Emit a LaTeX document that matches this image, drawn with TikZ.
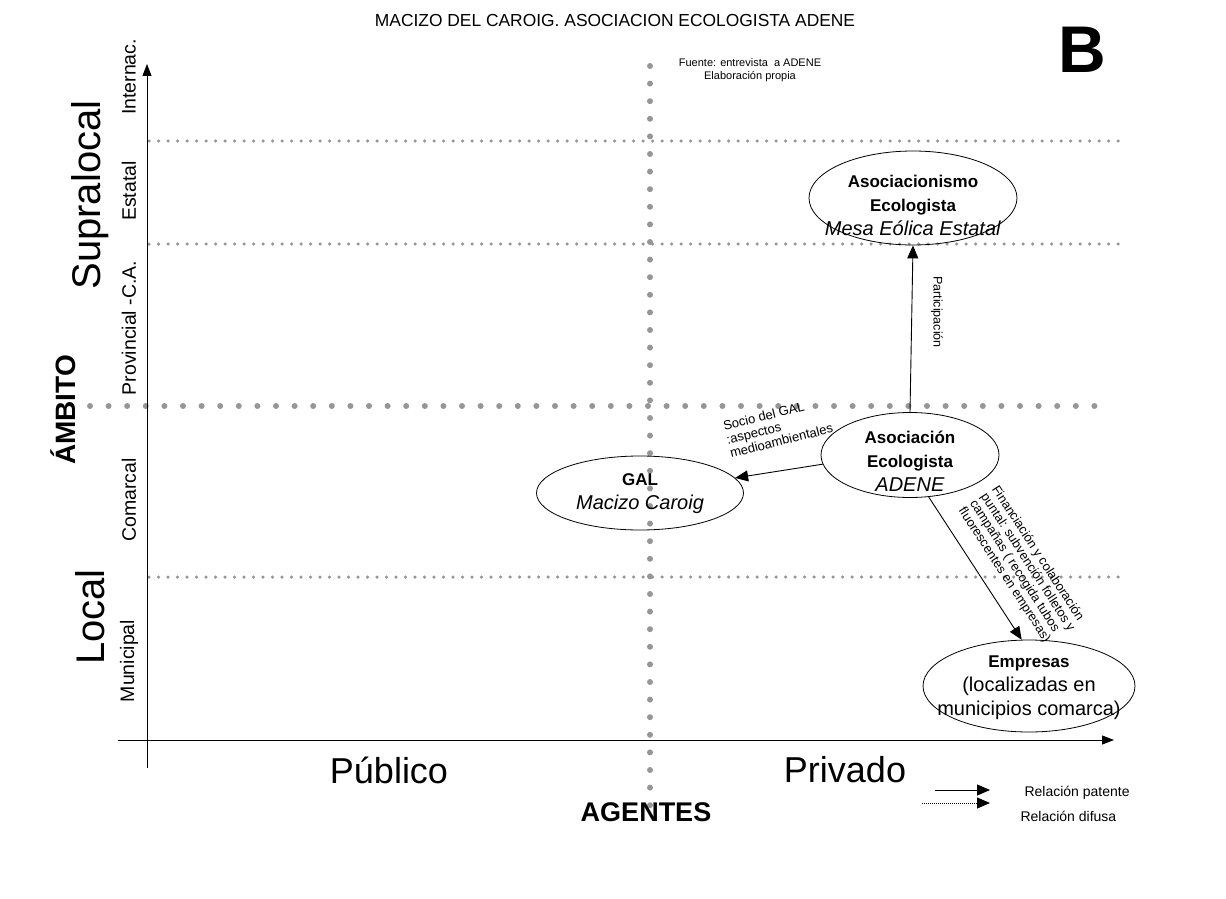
\documentclass[tikz,border=0pt]{standalone}
\usepackage{fontspec}
\setmainfont{Liberation Sans}
\usetikzlibrary{shapes.geometric,arrows.meta}
\definecolor{dotgray}{RGB}{150,150,150}
\tikzset{
  bigdots/.style={draw=dotgray, line width=6pt, line cap=round, dash pattern=on 0pt off 18.6pt},
  vdots/.style={draw=dotgray, line width=6pt, line cap=round, dash pattern=on 0pt off 17.6pt},
  smalldots/.style={draw=dotgray, line width=3.5pt, line cap=round, dash pattern=on 0pt off 9.5pt},
  ell/.style={draw, ellipse, inner sep=0pt, line width=0.8pt},
  etext/.style={align=center, inner sep=0pt, font=\fontsize{20}{24}\selectfont},
  arr/.style={-{Triangle[length=13pt,width=11pt]}, line width=0.9pt},
  axis/.style={line width=0.9pt},
  lvl/.style={rotate=90, font=\fontsize{19.5}{22}\selectfont},
  big/.style={rotate=90, font=\fontsize{40}{42}\selectfont},
}
\newcommand{\bt}[1]{{\bfseries\fontsize{17}{24}\selectfont #1}}
\begin{document}
\begin{tikzpicture}[x=1pt,y=-1pt]
\useasboundingbox (0,0) rectangle (1226,899);
% title
\node (title) at (615,21) {\fontsize{17.4}{19}\selectfont MACIZO DEL CAROIG. ASOCIACION ECOLOGISTA ADENE};
\node[font=\fontsize{66}{68}\selectfont\bfseries] (B) at (1082,50) {B};
\node[align=center, font=\fontsize{11}{13}\selectfont] (src) at (750,70) {Fuente: entrevista\ \ a ADENE\\Elaboración propia};

% dotted grid
\coordinate (s1a) at (149,141); \coordinate (s1b) at (1118,141);
\coordinate (s2a) at (149,244); \coordinate (s2b) at (1118,244);
\coordinate (s3a) at (149,577); \coordinate (s3b) at (1118,577);
\draw[smalldots] (s1a) -- (s1b);
\draw[smalldots] (s2a) -- (s2b);
\draw[smalldots] (s3a) -- (s3b);
\coordinate (ha) at (90,406); \coordinate (hb) at (1108,406);
\draw[bigdots] (ha) -- (hb);
\coordinate (va) at (650,66); \coordinate (vb) at (650,810);
\draw[vdots] (va) -- (vb);

% axes
\coordinate (yax0) at (147,768); \coordinate (yax1) at (147,64);
\coordinate (xax0) at (118,740); \coordinate (xax1) at (1114,740);
\draw[axis,-{Triangle[length=12pt,width=9pt]}] (yax0) -- (yax1);
\draw[axis,-{Triangle[length=12pt,width=9pt]}] (xax0) -- (xax1);

% axis labels
\node[lvl] (l1) at (129,77) {Internac.};
\node[lvl] (l2) at (129,191) {Estatal};
\node[lvl] (l3) at (129,328) {Provincial -C.A.};
\node[lvl] (l4) at (129,500) {Comarcal};
\node[lvl] (l5) at (129,661) {Municipal};
\node[big] (sup) at (90,195) {Supralocal};
\node[big] (loc) at (90,617) {Local};
\node[rotate=90, font=\fontsize{28}{30}\selectfont\bfseries] (amb) at (63,410) {ÁMBITO};
\node[font=\fontsize{36}{40}\selectfont] (pub) at (389,770) {Público};
\node[font=\fontsize{36}{40}\selectfont] (priv) at (845,770) {Privado};
\node[font=\fontsize{27}{30}\selectfont\bfseries] (ag) at (646,812) {AGENTES};

% ellipses
\node[ell, minimum width=208pt, minimum height=94pt] (asoc) at (913,198) {};
\node[etext] (asoct) at (913,205) {\bt{Asociacionismo}\\\bt{Ecologista}\\\textit{Mesa Eólica Estatal}};
\node[ell, minimum width=178pt, minimum height=85pt] (adene) at (910,455) {};
\node[etext] (adenet) at (910,461) {\bt{Asociación}\\\bt{Ecologista}\\\textit{ADENE}};
\node[ell, minimum width=207pt, minimum height=74pt] (gal) at (640,493) {};
\node[etext] (galt) at (640,494) {\bt{GAL}\\\textit{Macizo Caroig}};
\node[ell, minimum width=212pt, minimum height=92pt] (emp) at (1029,686) {};
\node[etext] (empt) at (1029,688) {\bt{Empresas}\\(localizadas en\\municipios comarca)};

% connectors
\draw[arr] (adene.north) -- (asoc.south);
\draw[arr] (adene.186) -- (gal.9);
\draw[arr] (adene.-66) -- (emp.99);

\node[rotate=-90, font=\fontsize{12.5}{14}\selectfont] (lp) at (937,312) {Participación};
\node[rotate=14, align=left, font=\fontsize{13}{14}\selectfont] (lg) at (778,427)
  {Socio del GAL\\:aspectos\\medioambientales};
\node[rotate=-57, align=left, font=\fontsize{12.8}{13.2}\selectfont] (lf) at (1022,566)
  {Financiación y colaboración\\puntal: subvención folletos y\\campañas ( recogida tubos\\fluorescentes en empresas)};

% legend
\coordinate (p1) at (935,790); \coordinate (p2) at (990,790);
\coordinate (d1) at (922,803); \coordinate (d2) at (990,803);
\draw[arr] (p1) -- (p2);
\draw[-{Triangle[length=13pt,width=11pt]}, line width=0.9pt, dash pattern=on 1pt off 1pt] (d1) -- (d2);
\node[anchor=west, font=\fontsize{14}{16}\selectfont] (rp) at (1021,793) {Relación patente};
\node[anchor=west, font=\fontsize{14}{16}\selectfont] (rd) at (1017,816) {Relación difusa};
\end{tikzpicture}
\end{document}
